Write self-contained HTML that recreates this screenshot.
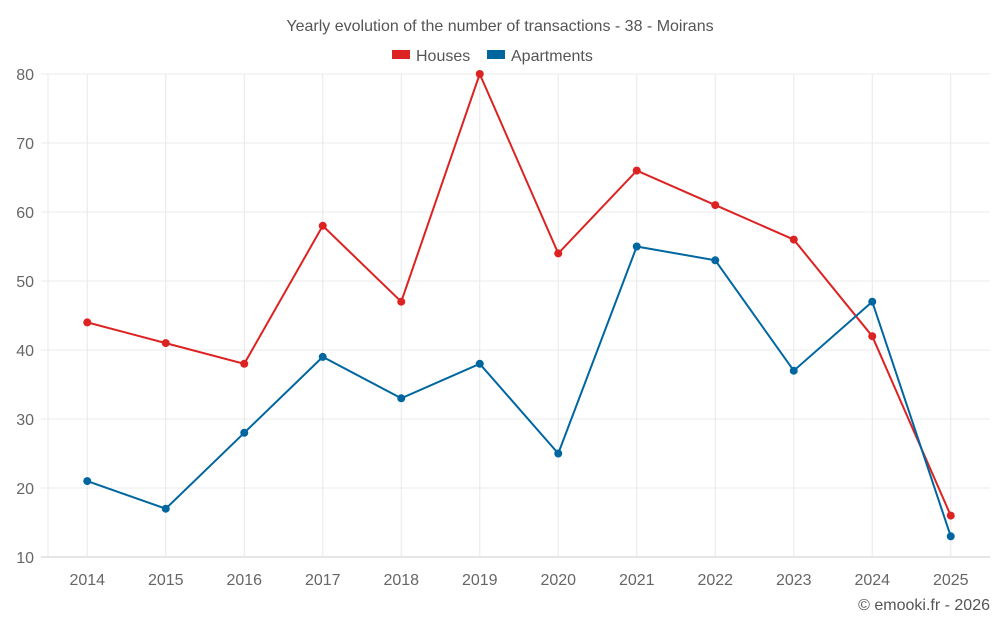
<!DOCTYPE html>
<html><head><meta charset="utf-8"><style>
body{margin:0;background:#fff;font-family:"Liberation Sans",sans-serif}
svg text{font-family:"Liberation Sans",sans-serif}
</style></head><body>
<svg id="chart" width="1000" height="625">
<text x="500" y="31" text-anchor="middle" font-size="16" fill="#555">Yearly evolution of the number of transactions - 38 - Moirans</text>
<g>
<rect x="392" y="50" width="18" height="9" fill="#dd2222"/>
<text x="416" y="61" font-size="16" fill="#555">Houses</text>
<rect x="487" y="50" width="18" height="9" fill="#0066a0"/>
<text x="511" y="61" font-size="16" fill="#555">Apartments</text>
</g>
<g id="grid"></g><g id="axes"></g><g id="series"></g>
<text x="990" y="610" text-anchor="end" font-size="16" fill="#555">© emooki.fr - 2026</text>
</svg>
<script>
const years=["2014","2015","2016","2017","2018","2019","2020","2021","2022","2023","2024","2025"];
const houses=[44,41,38,58,47,80,54,66,61,56,42,16];
const apartments=[21,17,28,39,33,38,25,55,53,37,47,13];
const yTicks=[10,20,30,40,50,60,70,80];
const NS="http://www.w3.org/2000/svg";
const L=48,R=990,T=74,B=557,yMin=10,yMax=80;
const bw=(R-L)/years.length;
const x=i=>L+bw*(i+0.5);
const y=v=>B-(v-yMin)/(yMax-yMin)*(B-T);
function mk(tag,attrs,parent){const e=document.createElementNS(NS,tag);for(const k in attrs)e.setAttribute(k,attrs[k]);document.getElementById(parent).appendChild(e);return e;}
yTicks.forEach(t=>{
  const g=mk("line",{x1:41,x2:R,y1:y(t),y2:y(t),stroke:t===yMin?"#ccc":"#ebebeb"},"grid");
  
  
  const tx=mk("text",{x:34,y:y(t)+6,"text-anchor":"end","font-size":16,fill:"#666"},"axes");
  tx.textContent=t;
  
  
});
const ge=mk("line",{x1:L,x2:L,y1:T,y2:B,stroke:"#e8e8e8"},"grid");


years.forEach((yr,i)=>{
  const g=mk("line",{x1:x(i),x2:x(i),y1:T,y2:B,stroke:"#e8e8e8"},"grid");
  
  
  const tx=mk("text",{x:x(i),y:585,"text-anchor":"middle","font-size":16,fill:"#666"},"axes");
  tx.textContent=yr;
  
  
});
function series(vals,color,name){
  const p=mk("polyline",{points:vals.map((v,i)=>x(i)+","+y(v)).join(" "),fill:"none",stroke:color,"stroke-width":2},"series");
  
  
  vals.forEach((v,i)=>{
    const c=mk("circle",{cx:x(i),cy:y(v),r:4,fill:color},"series");
    
    
  });
}
series(houses,"#dd2222","houses");
series(apartments,"#0066a0","apartments");
</script>
</body></html>
